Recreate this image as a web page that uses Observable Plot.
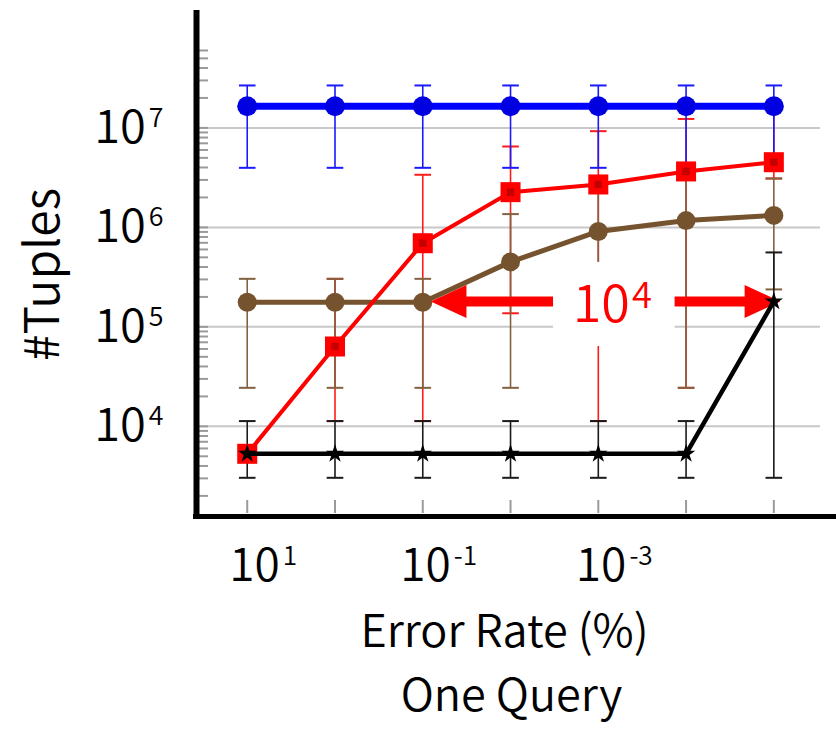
<!DOCTYPE html>
<html>
<head>
<meta charset="utf-8">
<script src="https://cdn.jsdelivr.net/npm/d3@7"></script>
<script src="https://cdn.jsdelivr.net/npm/@observablehq/plot@0.6"></script>
<style>
  html, body { margin: 0; padding: 0; background: #fff; }
  #chart { width: 836px; height: 729px; }
</style>
</head>
<body>
<div id="chart"></div>
<script>
// ---- Data ----
const errorRates = ["10^1", "10^0", "10^-1", "10^-2", "10^-3", "10^-4", "10^-5"];
const xTickIdx = [0, 2, 4];
const yTicks = [1e4, 1e5, 1e6, 1e7];

const blueVals = [1.65e7, 1.65e7, 1.65e7, 1.65e7, 1.65e7, 1.65e7, 1.65e7];
const blueHi   = [2.67e7, 2.67e7, 2.67e7, 2.67e7, 2.67e7, 2.67e7, 2.67e7];
const blueLo   = [3.97e6, 3.97e6, 3.97e6, 3.97e6, 3.97e6, 3.97e6, 3.97e6];

const redVals = [5.3e3, 6.35e4, 6.93e5, 2.26e6, 2.7e6, 3.65e6, 4.52e6];
const redHi   = [null, 3.04e5, 3.38e6, 6.5e6, 9.27e6, 1.23e7, 1.65e7];
const redLo   = [null, 1.13e4, 1.13e4, 1.37e5, 1.13e4, 2.44e4, 3.1e6];

const brownVals = [1.77e5, 1.77e5, 1.77e5, 4.5e5, 9.1e5, 1.17e6, 1.32e6];
const brownHi   = [3.04e5, 3.04e5, 3.04e5, 1.36e6, 2.7e6, 3.65e6, 3.1e6];
const brownLo   = [2.44e4, 2.44e4, 2.44e4, 2.44e4, 1.5e5, 2.44e4, 2.38e5];

const blackVals = [5.3e3, 5.3e3, 5.3e3, 5.3e3, 5.3e3, 5.3e3, 1.8e5];
const blackHi   = [1.13e4, 1.13e4, 1.13e4, 1.13e4, 1.13e4, 1.13e4, 5.6e5];
const blackLo   = [3.04e3, 3.04e3, 3.04e3, 3.04e3, 3.04e3, 3.04e3, 3.04e3];

// annotation: double arrow from column 2 to column 6, label 10^4 in a white box
const annotation = [{from: 2, to: 6, value: 1.8e5, label: "10^4", bx1: 3.49, bx2: 4.875, by1: 6.35e4, by2: 4.45e5}];

// ---- Helpers ----
const rowsOf = (vals, hi, lo) => vals.map((v, i) => ({i, v, hi: hi[i], lo: lo[i]}));
const blue = rowsOf(blueVals, blueHi, blueLo);
const red = rowsOf(redVals, redHi, redLo);
const brown = rowsOf(brownVals, brownHi, brownLo);
const black = rowsOf(blackVals, blackHi, blackLo);

const capSymbol = {draw(ctx, size) { const h = Math.sqrt(size / Math.PI); ctx.moveTo(-h, 0); ctx.lineTo(h, 0); }};
const arrowRight = {draw(ctx, size) { const r = Math.sqrt(size / Math.PI); const L = 2.1 * r, H = 0.97 * r; ctx.moveTo(0, 0); ctx.lineTo(-L, -H); ctx.lineTo(-L, H); ctx.closePath(); }};
const arrowLeft = {draw(ctx, size) { const r = Math.sqrt(size / Math.PI); const L = 2.1 * r, H = 0.97 * r; ctx.moveTo(0, 0); ctx.lineTo(L, -H); ctx.lineTo(L, H); ctx.closePath(); }};

function errorBars(rs, color) {
  const ok = rs.filter(d => d.hi != null && d.lo != null);
  return [
    Plot.ruleX(ok, {x: "i", y1: "lo", y2: "hi", stroke: color, strokeWidth: 1.6}),
    Plot.dot(ok, {x: "i", y: "hi", symbol: capSymbol, r: 8.3, stroke: color, strokeWidth: 2, fill: "none"}),
    Plot.dot(ok, {x: "i", y: "lo", symbol: capSymbol, r: 8.3, stroke: color, strokeWidth: 2, fill: "none"})
  ];
}

// minor log ticks
const minorTicks = [];
for (let e = 3; e <= 7; e++) for (let m = 1; m <= 9; m++) {
  const v = m * 10 ** e;
  if (v >= 2e3 && v <= 6e7) minorTicks.push(v);
}

const font = "'Noto Sans CJK SC', 'Noto Sans', sans-serif";
const fw = 350;
const W = 836, H = 729, mL = 196, mT = 10, mB = 213, mR = 0;

const chart = Plot.plot({
  width: W, height: H,
  marginLeft: mL, marginRight: mR, marginTop: mT, marginBottom: mB,
  style: {fontFamily: font, fontWeight: fw, background: "white", overflow: "visible"},
  x: {domain: [-0.578, 6.714]},
  y: {type: "log", domain: [10 ** 3.094, 10 ** 8.18]},
  marks: [
    // gridlines and ticks
    Plot.ruleY(yTicks, {y: d => d, stroke: "#c8c8c8", strokeWidth: 2, insetLeft: 3, insetRight: 16}),
    Plot.ruleY(minorTicks, {y: d => d, stroke: "#9a9a9a", strokeWidth: 2, insetLeft: 3, insetRight: (W - mL - mR) - 12}),
    Plot.ruleX(d3.range(errorRates.length), {x: d => d, stroke: "#9a9a9a", strokeWidth: 2, insetTop: 490, insetBottom: 3}),
    // error bars
    ...errorBars(red, "#ff1a1a"),
    ...errorBars(brown, "#83613f"),
    ...errorBars(black, "#1a1a1a"),
    ...errorBars(blue, "#1a1aff"),
    // brown series
    Plot.line(brown, {x: "i", y: "v", stroke: "#76532f", strokeWidth: 5}),
    Plot.dot(brown, {x: "i", y: "v", r: 9.5, fill: "#76532f"}),
    // red series
    Plot.line(red, {x: "i", y: "v", stroke: "#ff0000", strokeWidth: 4}),
    Plot.dot(red, {x: "i", y: "v", symbol: "square", r: 11.3, fill: "#ff0000"}),
    Plot.dot(red, {x: "i", y: "v", symbol: "square", r: 4.2, fill: "#c40000"}),
    // annotation
    Plot.ruleY(annotation, {x1: "from", x2: "to", y: "value", stroke: "#ff0000", strokeWidth: 10, insetLeft: 25, insetRight: 15}),
    Plot.rect(annotation, {x1: "bx1", x2: "bx2", y1: "by1", y2: "by2", fill: "white"}),
    Plot.dot(annotation, {x: "from", y: "value", symbol: arrowLeft, r: 17, fill: "#ff0000", dx: 8}),
    Plot.dot(annotation, {x: "to", y: "value", symbol: arrowRight, r: 17, fill: "#ff0000", dx: 6.5}),
    Plot.text(annotation, {x: d => (d.bx1 + d.bx2) / 2, y: "value", text: "label", fill: "#ff0000", fontSize: 52, fontWeight: fw, dy: 4, dx: -2}),
    // black series
    Plot.line(black, {x: "i", y: "v", stroke: "#000000", strokeWidth: 4.5}),
    Plot.dot(black, {x: "i", y: "v", symbol: "star", r: 5.8, fill: "#000000"}),
    // blue series
    Plot.line(blue, {x: "i", y: "v", stroke: "#0000ff", strokeWidth: 7}),
    Plot.dot(blue, {x: "i", y: "v", r: 10, fill: "#0000e0"}),
    // axes lines
    Plot.ruleX([-0.578], {x: d => d, stroke: "black", strokeWidth: 6, insetBottom: -3}),
    Plot.ruleY([10 ** 3.094], {y: d => d, stroke: "black", strokeWidth: 5, insetLeft: -3}),
    // axes labels
    Plot.axisY({ticks: yTicks, tickFormat: d => "10^" + Math.round(Math.log10(d)), tickSize: 0, tickPadding: 33, fontSize: 47, fontWeight: fw, label: null}),
    Plot.axisX({ticks: xTickIdx, tickFormat: i => errorRates[i], tickSize: 0, tickPadding: 32, fontSize: 46, fontWeight: fw, dx: 16, label: null}),
    Plot.text(["#Tuples"], {text: d => d, frameAnchor: "left", rotate: -90, fontSize: 48, fontWeight: fw, textAnchor: "middle", lineAnchor: "bottom", dx: -138, dy: 11, fill: "black"}),
    Plot.text(["Error Rate (%)"], {text: d => d, frameAnchor: "bottom", fontSize: 45, fontWeight: fw, textAnchor: "middle", lineAnchor: "bottom", dx: -12, dy: 130.7, fill: "black"}),
    Plot.text(["One Query"], {text: d => d, frameAnchor: "bottom", fontSize: 45, fontWeight: fw, textAnchor: "middle", lineAnchor: "bottom", dx: -5, dy: 194, fill: "black"})
  ]
});

document.getElementById("chart").appendChild(chart);

// turn "10^k" strings into 10 with a superscript exponent
const NS = "http://www.w3.org/2000/svg";
chart.querySelectorAll("text").forEach(t => {
  const m = /^(\d+)\^(-?\d+)$/.exec(t.textContent.trim());
  if (!m) return;
  const fs = parseFloat(getComputedStyle(t).fontSize) || 46;
  const big = fs > 50;
  const ratio = big ? 0.7 : 0.57;
  const shift = big ? 0.27 * fs : 0.72 * fs * (1 - ratio) + 1.5;
  t.textContent = "";
  const a = document.createElementNS(NS, "tspan");
  a.textContent = m[1];
  t.appendChild(a);
  const b = document.createElementNS(NS, "tspan");
  b.setAttribute("font-size", (ratio * fs).toFixed(1));
  b.setAttribute("dy", (-shift).toFixed(1));
  b.setAttribute("dx", big ? "2" : "3");
  b.textContent = m[2];
  t.appendChild(b);
});
</script>
</body>
</html>
